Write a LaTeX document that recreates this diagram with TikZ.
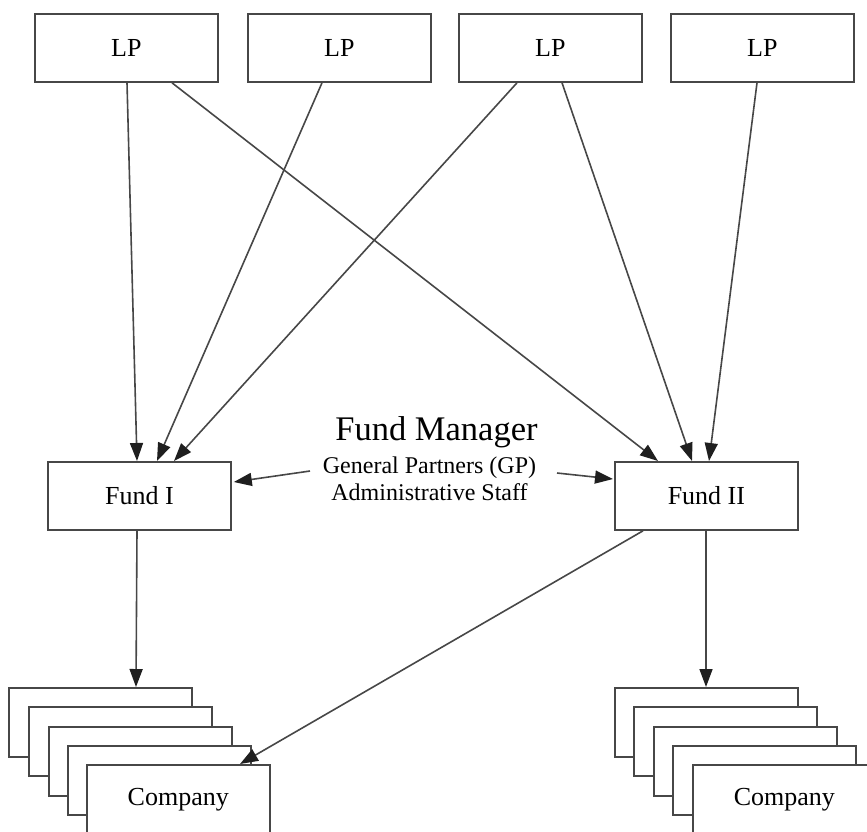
\documentclass[tikz,border=0pt]{standalone}
\usepackage{fontspec}
\setmainfont{Liberation Serif}
\usetikzlibrary{arrows.meta}
\begin{document}
\begin{tikzpicture}[x=1pt,y=-1pt,
  box/.style={draw=black!72, line width=1.8pt, fill=white, minimum width=183pt, minimum height=68pt,
    inner sep=0pt, font=\fontsize{26}{30}\selectfont, anchor=north west},
  cbox/.style={box, line width=1.6pt, minimum height=69pt},
  arr/.style={draw=black!72, line width=1.6pt, -{Triangle[length=18pt,width=13pt,color=black!88,fill=black!88]}},
  lbl/.style={inner sep=0pt, anchor=base}
]
\useasboundingbox (0,0) rectangle (867,831);
% top LP boxes
\node[box] (lp1) at (34,13) {LP};
\node[box] (lp2) at (247,13) {LP};
\node[box] (lp3) at (458,13) {LP};
\node[box] (lp4) at (670,13) {LP};
% funds
\node[box] (fund1) at (47,461) {Fund I};
\node[box] (fund2) at (614,461) {Fund II};
% left company stack
\node[cbox] (c1a) at (8,687) {};
\node[cbox] (c1b) at (28,706) {};
\node[cbox] (c1c) at (48,726) {};
\node[cbox] (c1d) at (67,745) {};
\node[cbox] (c1e) at (86,764) {Company};
% right company stack
\node[cbox] (c2a) at (614,687) {};
\node[cbox] (c2b) at (633,706) {};
\node[cbox] (c2c) at (653,726) {};
\node[cbox] (c2d) at (672,745) {};
\node[cbox] (c2e) at (692,764) {Company};
% fund manager text
\node[lbl, font=\fontsize{34.5}{38}\selectfont] (fm) at (436.5,440) {Fund Manager};
\node[lbl, font=\fontsize{24}{26}\selectfont] (gp) at (429.5,473) {General Partners (GP)};
\node[lbl, font=\fontsize{24}{26}\selectfont] (adm) at (429.5,500) {Administrative Staff};
\coordinate (gpl) at (310,471);
\coordinate (gpr) at (557,473);
% LP arrows
\draw[arr] ([xshift=93pt]lp1.south west) -- ([xshift=90pt]fund1.north west);
\draw[arr] ([xshift=138pt]lp1.south west) -- ([xshift=44pt]fund2.north west);
\draw[arr] ([xshift=75pt]lp2.south west) -- ([xshift=110pt]fund1.north west);
\draw[arr] ([xshift=59pt]lp3.south west) -- ([xshift=127pt]fund1.north west);
\draw[arr] ([xshift=104pt]lp3.south west) -- ([xshift=78pt]fund2.north west);
\draw[arr] ([xshift=87pt]lp4.south west) -- ([xshift=95pt]fund2.north west);
% manager arrows
\draw[arr] (gpl) -- ([xshift=2pt,yshift=-21pt]fund1.north east);
\draw[arr] (gpr) -- ([xshift=-1pt,yshift=-18pt]fund2.north west);
% fund to companies
\draw[arr] ([xshift=90pt]fund1.south west) -- ([xshift=128pt]c1a.north west);
\draw[arr] ([xshift=92pt]fund2.south west) -- ([xshift=92pt]c2a.north west);
\draw[arr] ([xshift=29pt]fund2.south west) -- ([xshift=154pt]c1e.north west);
\end{tikzpicture}
\end{document}
